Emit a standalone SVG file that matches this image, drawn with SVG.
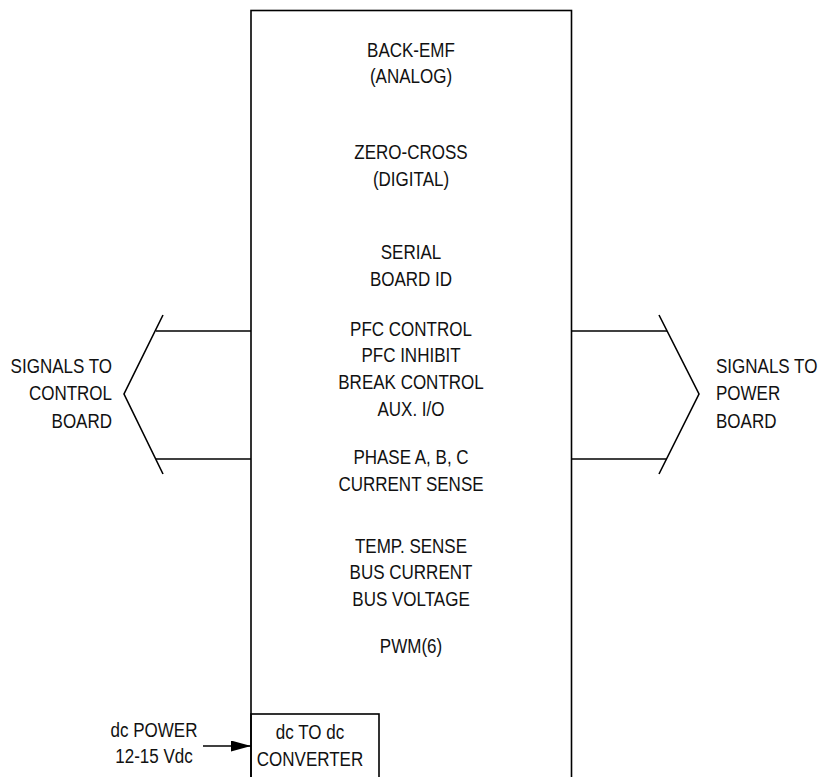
<svg xmlns="http://www.w3.org/2000/svg" width="822" height="777" viewBox="0 0 822 777">
  <style>
    .ln { fill: none; stroke: #000; stroke-width: 1.6; }
    .t { font-family: "Liberation Sans", Arial, sans-serif; font-size: 21px; fill: #111; }
    .c { text-anchor: middle; }
    .e { text-anchor: end; }
    .s { text-anchor: start; }
  </style>
  <defs>
    <marker id="ah" viewBox="0 0 20 11" refX="20" refY="5.5" markerWidth="20" markerHeight="11" markerUnits="userSpaceOnUse" orient="auto">
      <path d="M0,0 L20,5.5 L0,11 Z" fill="#000"/>
    </marker>
  </defs>
  <rect width="822" height="777" fill="#fff"/>

  <g id="board">
    <rect class="ln" x="251" y="10.5" width="320.5" height="800"/>
    <g transform="translate(411,0) scale(0.81,1)">
      <text class="t c" x="0" y="56.7">BACK-EMF</text>
      <text class="t c" x="0" y="83.3">(ANALOG)</text>
      <text class="t c" x="0" y="159.3">ZERO-CROSS</text>
      <text class="t c" x="0" y="185.7">(DIGITAL)</text>
      <text class="t c" x="0" y="259">SERIAL</text>
      <text class="t c" x="0" y="286">BOARD ID</text>
      <text class="t c" x="0" y="335.7">PFC CONTROL</text>
      <text class="t c" x="0" y="362.3">PFC INHIBIT</text>
      <text class="t c" x="0" y="389">BREAK CONTROL</text>
      <text class="t c" x="0" y="415.7">AUX. I/O</text>
      <text class="t c" x="0" y="464">PHASE A, B, C</text>
      <text class="t c" x="0" y="490.7">CURRENT SENSE</text>
      <text class="t c" x="0" y="552.7">TEMP. SENSE</text>
      <text class="t c" x="0" y="579.3">BUS CURRENT</text>
      <text class="t c" x="0" y="606">BUS VOLTAGE</text>
      <text class="t c" x="0" y="653">PWM(6)</text>
    </g>
  </g>

  <g id="converter">
    <rect class="ln" x="251" y="714" width="128" height="100" fill="#fff"/>
    <g transform="translate(310,0) scale(0.81,1)">
      <text class="t c" x="0" y="739.3">dc TO dc</text>
      <text class="t c" x="0" y="765.7">CONVERTER</text>
    </g>
  </g>

  <g id="control-board">
    <g transform="translate(112,0) scale(0.81,1)">
      <text class="t e" x="0" y="372.7">SIGNALS TO</text>
      <text class="t e" x="0" y="400">CONTROL</text>
      <text class="t e" x="0" y="427.7">BOARD</text>
    </g>
  </g>

  <g id="power-board">
    <g transform="translate(716,0) scale(0.81,1)">
      <text class="t s" x="0" y="372.7">SIGNALS TO</text>
      <text class="t s" x="0" y="400">POWER</text>
      <text class="t s" x="0" y="427.7">BOARD</text>
    </g>
  </g>

  <g id="dc-power">
    <g transform="translate(154,0) scale(0.81,1)">
      <text class="t c" x="0" y="736.7">dc POWER</text>
      <text class="t c" x="0" y="762.7">12-15 Vdc</text>
    </g>
  </g>

  <g id="connectors">
    <polyline class="ln" points="163,315 124,394 163,474"/>
    <line class="ln" x1="156" y1="331" x2="251" y2="331"/>
    <line class="ln" x1="156" y1="459" x2="251" y2="459"/>
    <polyline class="ln" points="659,315 699,394 659,474"/>
    <line class="ln" x1="571.5" y1="331" x2="667" y2="331"/>
    <line class="ln" x1="571.5" y1="459" x2="667" y2="459"/>
    <line class="ln" x1="203" y1="746" x2="251" y2="746" marker-end="url(#ah)"/>
  </g>
</svg>
